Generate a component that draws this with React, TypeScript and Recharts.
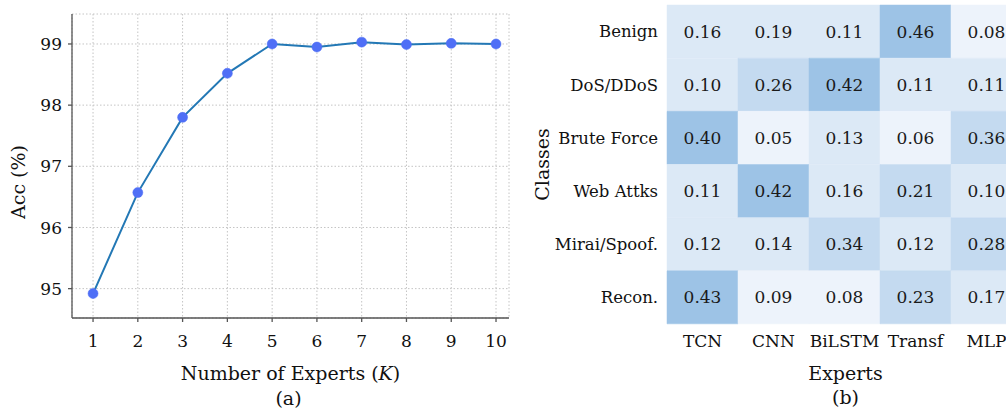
import React from "react";
import {
  LineChart,
  Line,
  XAxis,
  YAxis,
  CartesianGrid,
  BarChart,
  Bar,
  Cell,
  LabelList,
} from "recharts";

// (a) accuracy vs number of experts
const kValues = [1, 2, 3, 4, 5, 6, 7, 8, 9, 10];
const accuracy = [94.92, 96.57, 97.8, 98.52, 99.0, 98.95, 99.03, 98.99, 99.01, 99.0];
const accTicks = [95, 96, 97, 98, 99];

// (b) expert routing weights per class
const classes = ["Benign", "DoS/DDoS", "Brute Force", "Web Attks", "Mirai/Spoof.", "Recon."];
const experts = ["TCN", "CNN", "BiLSTM", "Transf", "MLP"];
const weights = [
  [0.16, 0.19, 0.11, 0.46, 0.08],
  [0.1, 0.26, 0.42, 0.11, 0.11],
  [0.4, 0.05, 0.13, 0.06, 0.36],
  [0.11, 0.42, 0.16, 0.21, 0.1],
  [0.12, 0.14, 0.34, 0.12, 0.28],
  [0.43, 0.09, 0.08, 0.23, 0.17],
];
const expertTicks = [0.5, 1.5, 2.5, 3.5, 4.5];

const FONT = "'DejaVu Serif', serif";

const lineData = kValues.map((k, i) => ({ k, acc: accuracy[i] }));
const heatData = classes.map((cls, i) => {
  const row: any = { cls };
  experts.forEach((e, j) => (row[e] = weights[i][j]));
  return row;
});

const cellColor = (v: number) => {
  if (v < 0.1) return "#edf3fb";
  if (v < 0.2) return "#dce9f6";
  if (v < 0.38) return "#c4daf0";
  return "#9dc3e6";
};

const tickStyle = { fill: "#111", fontSize: 17, fontFamily: FONT };

const LeftChart = () => (
  <LineChart
    width={520}
    height={412}
    data={lineData}
    margin={{ top: 14, right: 11, bottom: 0, left: 12 }}
    style={{ fontFamily: FONT }}
  >
    <CartesianGrid stroke="#c4c4c4" strokeDasharray="1.5 2" />
    <XAxis
      dataKey="k"
      type="number"
      domain={[0.53, 10.29]}
      ticks={kValues}
      allowDataOverflow
      interval={0}
      height={94}
      tickSize={4}
      tickMargin={13}
      stroke="#555"
      strokeWidth={1.3}
      tick={tickStyle}
      label={{
        content: (p: any) => {
          const vb = p.viewBox;
          const cx = vb.x + vb.width / 2;
          return (
            <g fontFamily={FONT} fill="#111" textAnchor="middle">
              <text x={cx} y={vb.y + 62} fontSize={19}>
                Number of Experts (<tspan fontStyle="italic">K</tspan>)
              </text>
              <text x={cx - 2} y={vb.y + 87} fontSize={19}>
                (a)
              </text>
            </g>
          );
        },
      }}
    />
    <YAxis
      type="number"
      domain={[94.52, 99.49]}
      ticks={accTicks}
      allowDataOverflow
      width={60}
      tickSize={4}
      tickMargin={6}
      stroke="#555"
      strokeWidth={1.3}
      tick={tickStyle}
      label={{
        content: () => (
          <text
            x={18}
            y={182}
            transform="rotate(-90 18 182)"
            textAnchor="middle"
            dominantBaseline="central"
            fontSize={19}
            fontFamily={FONT}
            fill="#111"
          >
            Acc (%)
          </text>
        ),
      }}
    />
    <XAxis
      xAxisId="top"
      orientation="top"
      type="number"
      domain={[0, 1]}
      height={0}
      tick={false}
      tickLine={false}
      stroke="#555"
      strokeWidth={1.3}
    />
    <YAxis
      yAxisId="right"
      orientation="right"
      type="number"
      domain={[0, 1]}
      width={0}
      tick={false}
      tickLine={false}
      stroke="#555"
      strokeWidth={1.3}
    />
    <Line
      type="linear"
      dataKey="acc"
      stroke="#2378b5"
      strokeWidth={2}
      dot={{ r: 5, fill: "#4f6ff6", stroke: "#4f6ff6", strokeWidth: 0.5 }}
      activeDot={false}
      isAnimationActive={false}
    />
  </LineChart>
);

const HeatLabel = (p: any) => {
  const vb = p.viewBox || p;
  return (
    <text
      x={vb.x + vb.width / 2}
      y={vb.y + vb.height / 2}
      textAnchor="middle"
      dominantBaseline="central"
      fontSize={17}
      fontFamily={FONT}
      fill="#1a1a1a"
    >
      {Number(p.value).toFixed(2)}
    </text>
  );
};

const RightChart = () => (
  <BarChart
    width={510}
    height={412}
    data={heatData}
    layout="vertical"
    barCategoryGap={0}
    margin={{ top: 5, right: 8, bottom: 0, left: 0 }}
    style={{ fontFamily: FONT }}
  >
    <XAxis
      type="number"
      domain={[0, 5]}
      ticks={expertTicks}
      interval={0}
      height={88}
      axisLine={false}
      tickLine={false}
      tickSize={0}
      tickMargin={11}
      tick={tickStyle}
      tickFormatter={(v: number) => experts[Math.floor(v)]}
      label={{
        content: (p: any) => {
          const vb = p.viewBox;
          const cx = vb.x + vb.width / 2;
          return (
            <g fontFamily={FONT} fill="#111" textAnchor="middle" fontSize={19}>
              <text x={cx + 1} y={vb.y + 56}>
                Experts
              </text>
              <text x={cx + 1} y={vb.y + 80}>
                (b)
              </text>
            </g>
          );
        },
      }}
    />
    <YAxis
      type="category"
      dataKey="cls"
      width={147}
      axisLine={false}
      tickLine={false}
      tickSize={0}
      tickMargin={9}
      tick={{ ...tickStyle, fontSize: 16.5 }}
      interval={0}
      label={{
        content: (p: any) => {
          const vb = p.viewBox;
          const cy = vb.y + vb.height / 2;
          return (
            <text
              x={vb.x + 22}
              y={cy}
              transform={`rotate(-90 ${vb.x + 22} ${cy})`}
              textAnchor="middle"
              dominantBaseline="central"
              fontSize={19}
              fontFamily={FONT}
              fill="#111"
            >
              Classes
            </text>
          );
        },
      }}
    />
    {experts.map((e) => (
      <Bar
        key={e}
        dataKey={() => 1}
        stackId="cells"
        isAnimationActive={false}
      >
        {heatData.map((row, i) => (
          <Cell key={i} fill={cellColor(row[e])} stroke={cellColor(row[e])} strokeWidth={0.5} />
        ))}
        <LabelList dataKey={e} content={HeatLabel} />
      </Bar>
    ))}
  </BarChart>
);

export default function App() {
  return (
    <div
      style={{
        position: "absolute",
        left: 0,
        top: 0,
        width: 1006,
        height: 412,
        overflow: "hidden",
        background: "#fff",
      }}
    >
      <div style={{ position: "absolute", left: 0, top: 0 }}>
        <LeftChart />
      </div>
      <div style={{ position: "absolute", left: 520, top: 0 }}>
        <RightChart />
      </div>
    </div>
  );
}
